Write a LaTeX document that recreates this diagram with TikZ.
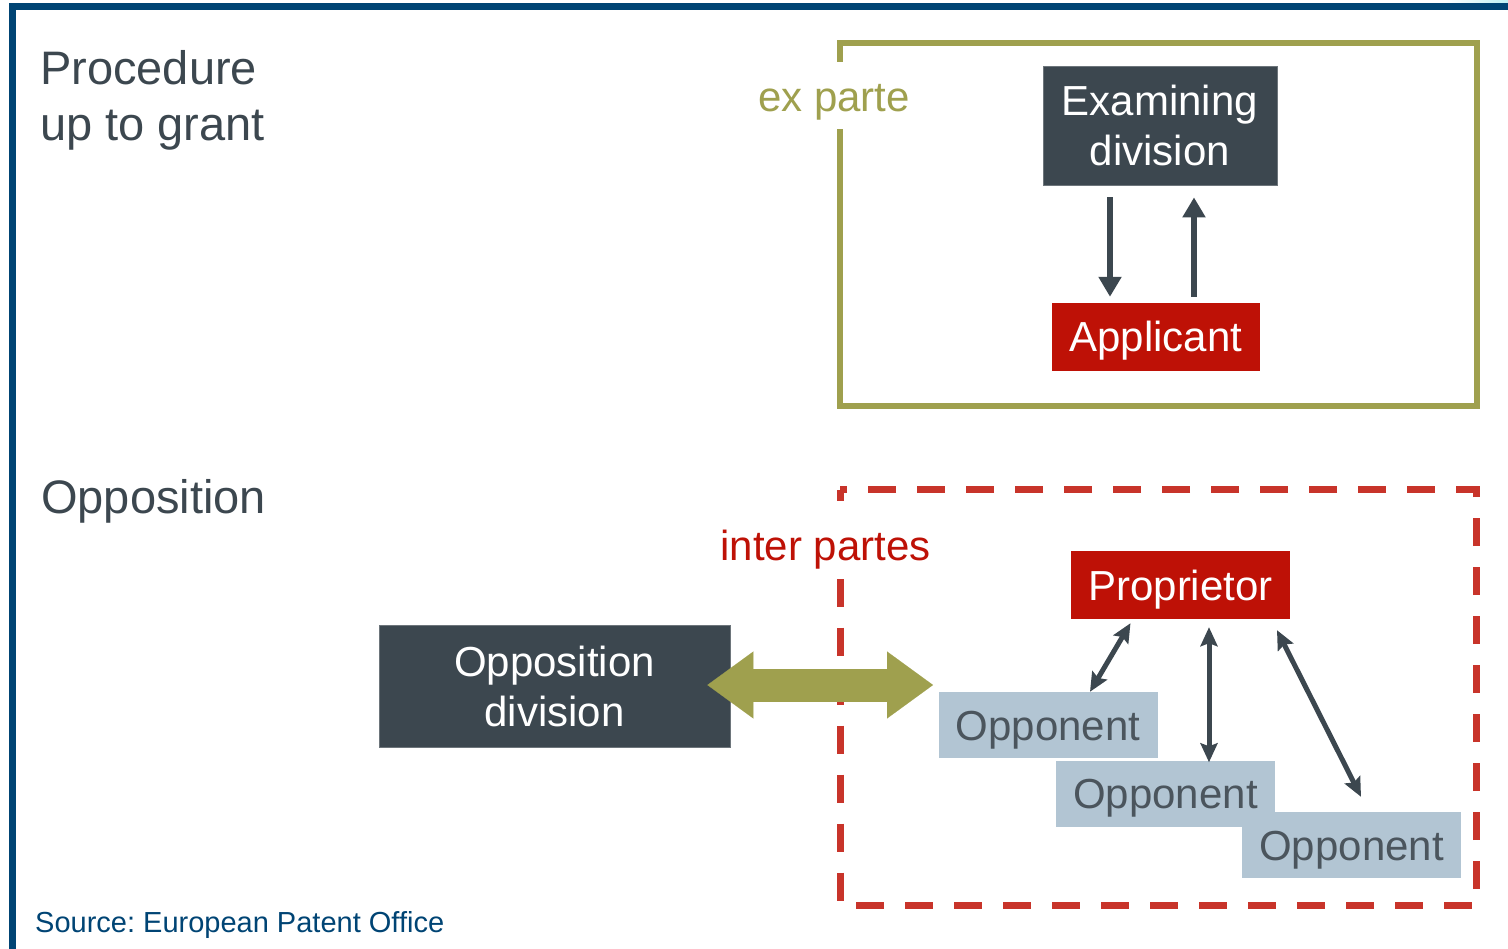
\documentclass[tikz,border=0pt]{standalone}
\usepackage{fontspec}
\setmainfont{Liberation Sans}
\usetikzlibrary{arrows.meta}
\frenchspacing

\definecolor{slate}{RGB}{60,71,79}
\definecolor{epored}{RGB}{190,17,6}
\definecolor{dashred}{RGB}{200,52,42}
\definecolor{olivebar}{RGB}{159,160,78}
\definecolor{paleblue}{RGB}{178,197,211}
\definecolor{oppgrey}{RGB}{75,85,93}
\definecolor{frameblue}{RGB}{0,68,116}

\begin{document}
\begin{tikzpicture}[
        x=1pt, y=-1pt,
        box/.style={
            rectangle, inner sep=0pt, align=center,
            font=\fontsize{42}{50}\selectfont
        },
        division/.style={box, fill=slate, draw=slate!75!white, line width=0.8pt, text=white},
        party/.style={box, fill=epored, text=white, text height=30pt, text depth=0pt},
        opponent/.style={box, fill=paleblue, text=oppgrey, text height=30pt, text depth=0pt,
            minimum width=219pt, minimum height=66pt},
        heading/.style={anchor=north west, inner sep=0pt, align=left, text=slate,
            font=\fontsize{47}{56}\selectfont},
        tag/.style={fill=white, inner xsep=4pt, anchor=base, font=\fontsize{42}{50}\selectfont},
        link/.style={draw=slate, line width=5pt,
            {Stealth[length=19pt,width=17pt,inset=3pt]}-{Stealth[length=19pt,width=17pt,inset=3pt]}},
        flow/.style={draw=slate, line width=6pt, -{Triangle[length=20pt,width=22pt]}},
        bigarrow/.style={draw=olivebar, line width=33pt,
            {Triangle[length=46pt,width=67pt,line width=0.1pt]}-{Triangle[length=46pt,width=67pt,line width=0.1pt]}}
    ]

        \useasboundingbox (0,0) rectangle (1508,949);

        % Rahmen
        \fill[frameblue] (9,3) rectangle (1508,10);
        \fill[frameblue] (9,3) rectangle (16,949);
        \shade[left color=white, right color=frameblue!30!cyan!25] (1445,0) rectangle (1508,3);

        % Ueberschriften
        \node[heading] (grant) at (40,50) {Procedure\\up to grant};
        \node[heading] (opposition) at (41,479) {Opposition};

        % ex parte
        \draw[olivebar, line width=6pt] (840,43) rectangle (1476.5,406);
        \node[tag, text=olivebar, text height=37pt, text depth=4pt, inner ysep=13pt]
            (exparte) at (834,112) {ex parte};

        \node[division, minimum width=234pt, minimum height=119pt] (exam) at (1160,125.5) {Examining\\division};
        \node[party, minimum width=208pt, minimum height=68pt] (appl) at (1156,337) {Applicant};

        \draw[flow] ([xshift=-50pt,yshift=-12pt]exam.south) -- ([xshift=-46pt,yshift=6pt]appl.north);
        \draw[flow] ([xshift=38pt,yshift=6pt]appl.north) -- ([xshift=34pt,yshift=-12pt]exam.south);

        % inter partes
        \draw[dashred, line width=7pt, dash pattern=on 28pt off 21pt, dash phase=9pt]
            (840,489.5) rectangle (1476.5,905.5);
        \node[tag, text=epored, text height=45pt, text depth=5pt, inner ysep=14pt]
            (interpartes) at (825.5,560) {inter partes};

        \node[division, minimum width=351pt, minimum height=122pt] (oppdiv) at (554.5,686) {Opposition\\division};
        \node[party, minimum width=219pt, minimum height=68pt] (prop) at (1180.5,585) {Proprietor};
        \node[opponent] (oppa) at (1048,725) {Opponent};
        \node[opponent] (oppb) at (1165.5,793.5) {Opponent};
        \node[opponent] (oppc) at (1351.5,845) {Opponent};

        \coordinate (barhead) at (933,685);
        \draw[bigarrow] ([xshift=-23pt,yshift=1pt]oppdiv.east) -- (barhead);

        \draw[link] ([xshift=-50pt,yshift=-4pt]prop.south) -- ([xshift=42pt]oppa.north);
        \draw[link] ([xshift=28.5pt,yshift=-8pt]prop.south) -- ([xshift=43.5pt,yshift=-2pt]oppb.north);
        \draw[link] ([xshift=96.5pt,yshift=-11pt]prop.south) -- ([xshift=9.5pt,yshift=15pt]oppc.north);

        % Quelle
        \node[anchor=base west, inner sep=0pt, text=frameblue, font=\fontsize{29}{35}\selectfont]
            (source) at (35,932) {Source: European Patent Office};

    \end{tikzpicture}
\end{document}
